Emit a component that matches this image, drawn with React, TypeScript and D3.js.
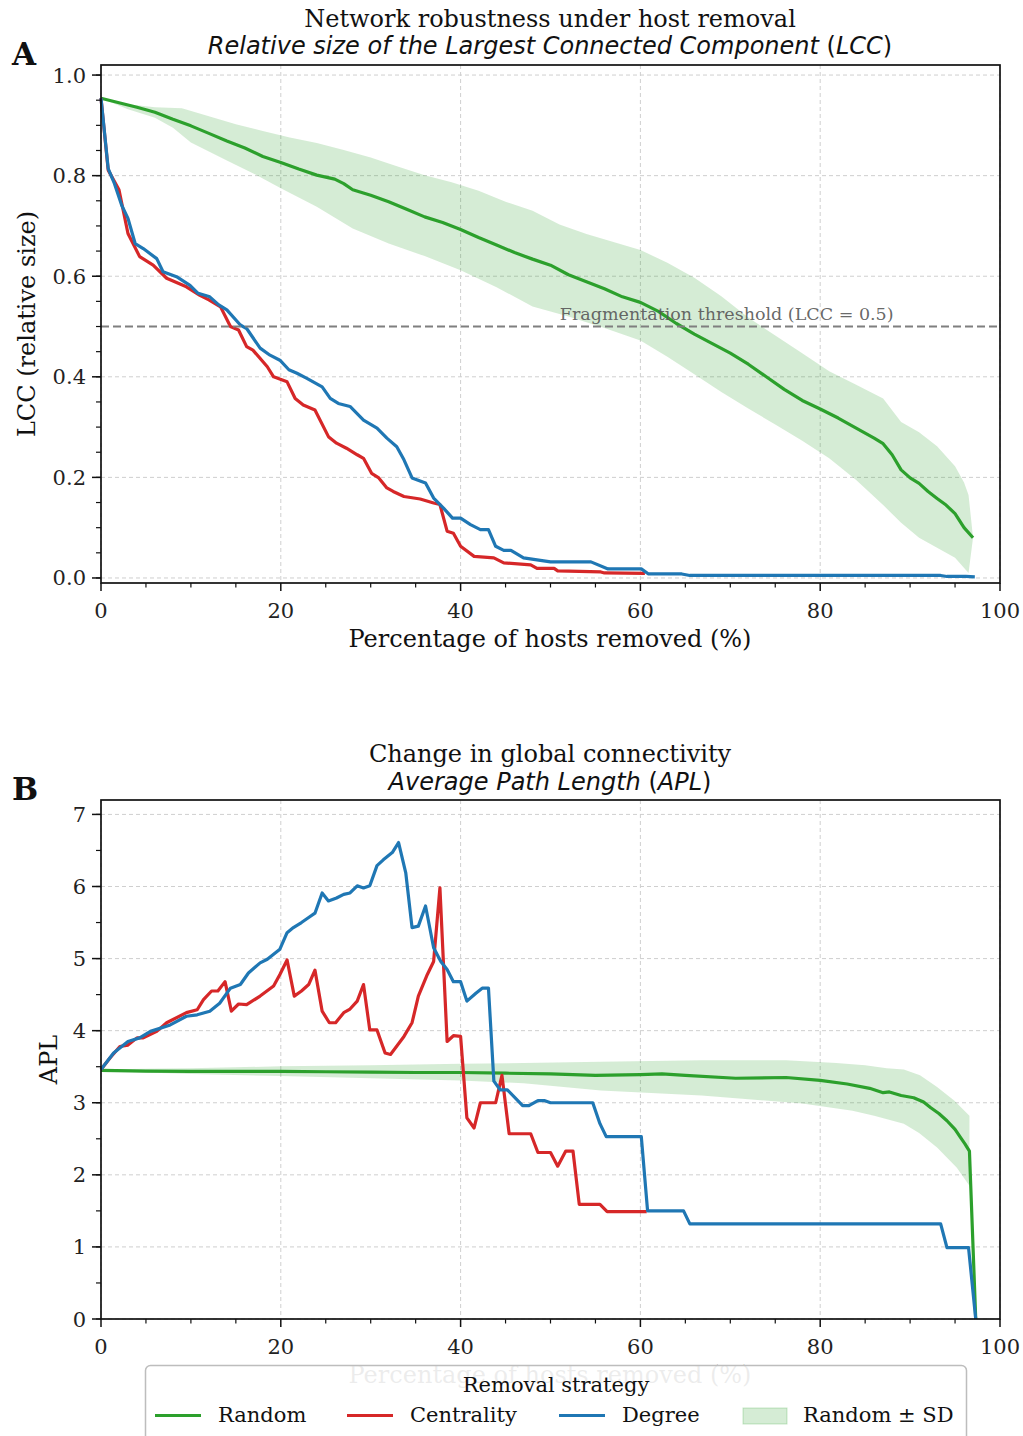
import React, { useRef, useEffect } from 'react'
import * as d3 from 'd3'

// ---- Panel A: relative size of the largest connected component ----
const lccPctRandom = [0,2,4,6,8,10,12,14,16,18,20,22,24,26,27,28,30,32,34,36,38,40,42,44,46,48,50,52,54,56,58,60,62,64,66,68,70,72,74,76,78,80,82,84,86,87,88,89,90,91,92,93,94,95,96,97]
const lccRandomMean = [0.954,0.945,0.936,0.926,0.912,0.899,0.884,0.869,0.855,0.838,0.826,0.813,0.801,0.793,0.784,0.772,0.761,0.748,0.733,0.718,0.707,0.693,0.677,0.662,0.647,0.634,0.622,0.603,0.589,0.575,0.559,0.548,0.530,0.506,0.485,0.466,0.447,0.425,0.400,0.375,0.353,0.336,0.318,0.298,0.278,0.267,0.245,0.215,0.199,0.188,0.172,0.158,0.145,0.128,0.100,0.080]

const lccPctUpper = [0,3,6,9,12,15,18,21,24,27,30,33,36,39,42,45,48,51,54,57,60,63,66,69,72,75,78,81,84,87,89,91,93,95,96,96.5,97]
const lccUpper = [0.954,0.942,0.936,0.934,0.918,0.902,0.889,0.876,0.865,0.851,0.836,0.818,0.801,0.787,0.770,0.748,0.730,0.703,0.684,0.668,0.652,0.627,0.597,0.560,0.518,0.482,0.447,0.411,0.384,0.357,0.310,0.290,0.262,0.222,0.190,0.165,0.080]
const lccPctLower = [0,3,6,8,10,12,14,17,20,24,28,32,36,40,44,48,52,56,60,63,66,69,72,75,78,81,84,87,89,91,93,95,96.5,97]
const lccLower = [0.954,0.932,0.915,0.895,0.866,0.848,0.830,0.804,0.775,0.738,0.695,0.665,0.640,0.612,0.578,0.540,0.520,0.497,0.472,0.440,0.405,0.370,0.337,0.305,0.273,0.238,0.195,0.145,0.110,0.080,0.060,0.040,0.010,0.080]

const lccPctCent = [0,0.8,2,3,4.3,5.8,7.3,9.5,11,12,13.3,14.4,15.3,16.2,16.9,18.5,19.2,20.7,21.6,22.5,23.8,25.3,26.2,27.3,28.5,29.2,30.1,30.9,31.8,32.5,33.7,35.5,37,37.7,38.5,39.2,40,41.5,43.7,44.8,47.8,48.5,50.4,50.8,55.6,56,60.5]
const lccCent = [0.954,0.811,0.772,0.685,0.639,0.622,0.596,0.579,0.562,0.553,0.539,0.500,0.493,0.460,0.453,0.420,0.400,0.390,0.357,0.344,0.334,0.281,0.268,0.258,0.245,0.238,0.208,0.199,0.179,0.172,0.162,0.157,0.149,0.146,0.093,0.089,0.063,0.043,0.040,0.030,0.026,0.019,0.019,0.014,0.012,0.010,0.009]

const lccPctDeg = [0,0.8,1.5,2.3,3,3.8,4.7,6.2,6.9,8.4,9.9,10.8,12.1,13.1,14,15.5,16.2,17.7,18.8,19.9,20.9,21.8,22.9,24.6,25.5,26.4,27.7,29.2,30.7,31.8,32.9,33.7,34.6,36.1,37,38.1,39.1,40,41.1,42.2,43.1,43.9,44.8,45.6,47,50,54.5,56.4,60.1,60.9,64.6,65.5,93.4,94.1,96.2,97.2]
const lccDeg = [0.954,0.814,0.784,0.741,0.715,0.665,0.655,0.635,0.609,0.599,0.582,0.566,0.559,0.543,0.533,0.503,0.496,0.457,0.443,0.433,0.414,0.407,0.397,0.380,0.357,0.347,0.341,0.314,0.298,0.278,0.261,0.235,0.199,0.189,0.159,0.139,0.119,0.119,0.106,0.096,0.096,0.063,0.055,0.055,0.040,0.032,0.032,0.018,0.018,0.008,0.008,0.005,0.005,0.003,0.003,0.002]

// ---- Panel B: average path length ----
const aplPctRandom = [0,5,10,15,20,25,30,35,40,45,50,55,60,62.4,65,70.6,76.2,80,83,85.5,87,87.7,89,90.4,91.5,92.3,93.2,94.1,95,95.6,96.1,96.6,97.3]
const aplRandomMean = [3.45,3.44,3.435,3.435,3.435,3.43,3.425,3.42,3.42,3.41,3.40,3.38,3.39,3.40,3.38,3.34,3.35,3.31,3.26,3.20,3.14,3.15,3.10,3.07,3.01,2.93,2.85,2.75,2.63,2.52,2.43,2.33,0]

const aplPctUpper = [0,5,10,20,30,40,47,55.6,66.8,76.2,81.8,85,87.4,89.3,91.1,93,94.9,96.6]
const aplUpper = [3.46,3.47,3.48,3.505,3.52,3.54,3.55,3.57,3.59,3.59,3.55,3.52,3.48,3.46,3.38,3.22,3.03,2.82]
const aplPctLower = [0,5,10,20,30,40,47,55.6,66.8,78,83.6,86,89.3,91,93,95.2,96.6]
const aplLower = [3.44,3.42,3.40,3.37,3.34,3.31,3.27,3.17,3.10,2.99,2.89,2.82,2.71,2.58,2.38,2.10,1.85]

const aplPctCent = [0,1,2.1,3,4,4.7,6.2,7.3,9.5,10.7,11.4,12.3,13,13.8,14.5,15.3,16.2,17.7,19.2,19.9,20.7,21.5,22.3,23.1,23.8,24.6,25.4,26.1,27,27.7,28.5,29.2,29.9,30.7,31.6,32.2,33.7,34.6,35.3,36.3,37,37.7,38.5,39.2,40,40.7,41.5,42.2,43.9,44.6,45.4,47.8,48.6,50,50.8,51.7,52.5,53.2,55.5,56.3,60.7]
const aplCent = [3.46,3.62,3.78,3.80,3.90,3.90,3.99,4.11,4.25,4.29,4.43,4.55,4.55,4.68,4.27,4.37,4.36,4.48,4.62,4.78,4.98,4.48,4.55,4.64,4.84,4.27,4.11,4.11,4.25,4.30,4.41,4.64,4.01,4.01,3.69,3.67,3.92,4.11,4.48,4.78,4.96,5.98,3.85,3.93,3.92,2.79,2.65,3.00,3.00,3.38,2.57,2.57,2.31,2.31,2.12,2.33,2.33,1.59,1.59,1.49,1.49]

const aplPctDeg = [0,1.4,3,4.3,5.5,7.7,9.5,10.7,12.1,13.2,14.4,15.5,16.4,17.7,18.5,19.2,19.9,20.7,21.4,22.3,23.1,23.8,24.6,25.3,26.2,27,27.7,28.5,29.2,29.9,30.7,31.4,32.4,33.1,33.9,34.6,35.3,36.1,37,37.8,38.5,39.2,40,40.7,41.7,42.4,43.1,43.7,44.4,45.2,46.9,47.6,48.6,49.3,50,54.7,55.5,56.2,60.1,60.8,64.8,65.5,93.4,94.1,96.5,97.3]
const aplDeg = [3.46,3.69,3.85,3.90,3.99,4.08,4.20,4.22,4.27,4.38,4.59,4.64,4.80,4.94,4.99,5.06,5.13,5.36,5.43,5.50,5.57,5.63,5.91,5.80,5.84,5.89,5.91,6.01,5.98,6.01,6.29,6.37,6.47,6.61,6.19,5.43,5.45,5.73,5.15,4.96,4.85,4.68,4.68,4.41,4.52,4.59,4.59,3.30,3.18,3.18,2.96,2.96,3.03,3.03,3.00,3.00,2.71,2.53,2.53,1.50,1.50,1.32,1.32,0.99,0.99,0]

const xMajor = [0, 20, 40, 60, 80, 100]
const lccMajor = [0, 0.2, 0.4, 0.6, 0.8, 1.0]
const aplMajor = [0, 1, 2, 3, 4, 5, 6, 7]
const strategies = ['Random', 'Centrality', 'Degree']

const GREEN = '#2ca02c', RED = '#d62728', BLUE = '#1f77b4'
const SERIF = '"DejaVu Serif", serif'
const SANS = '"DejaVu Sans", sans-serif'
const LEFT = 101, RIGHT = 1000
const LW = 3.2

const zip = (xs: number[], ys: number[]) => xs.map((v, i) => [v, ys[i]] as [number, number])

function makePanel(svg: any, p: any) {
    const g = svg.append('g')
    const x = d3.scaleLinear().domain([0, 100]).range([LEFT, RIGHT])
    const y = d3.scaleLinear().domain(p.yDomain).range([p.bottom, p.top])

    // grid
    g.append('g').selectAll('line').data(xMajor).join('line')
        .attr('x1', d => x(d)).attr('x2', d => x(d))
        .attr('y1', p.top).attr('y2', p.bottom)
        .attr('stroke', '#cfcfcf').attr('stroke-width', 1).attr('stroke-dasharray', '4,3')
    g.append('g').selectAll('line').data(p.yMajor).join('line')
        .attr('y1', d => y(d)).attr('y2', d => y(d))
        .attr('x1', LEFT).attr('x2', RIGHT)
        .attr('stroke', '#cfcfcf').attr('stroke-width', 1).attr('stroke-dasharray', '4,3')

    // titles
    g.append('text').attr('x', 550).attr('y', p.title1Y)
        .attr('text-anchor', 'middle').attr('font-family', SERIF).attr('font-size', 24)
        .attr('fill', '#111').text(p.title1)
    const t2 = g.append('text').attr('x', 550).attr('y', p.title2Y)
        .attr('text-anchor', 'middle').attr('font-family', SANS).attr('font-size', 24).attr('fill', '#111')
    t2.append('tspan').attr('font-style', 'italic').text(p.title2 + ' ')
    t2.append('tspan').text('(')
    t2.append('tspan').attr('font-style', 'italic').text(p.abbr)
    t2.append('tspan').text(')')

    g.append('text').attr('x', 12).attr('y', p.top)
        .attr('font-family', SERIF).attr('font-weight', 'bold').attr('font-size', 31)
        .attr('fill', '#111').text(p.letter)

    return { g, x, y }
}

function finishPanel(g: any, x: any, y: any, p: any) {
    const ink = '#111'
    // minor + major ticks
    const xMinor = d3.range(0, 101, 5).filter(v => v % 20 !== 0)
    const yMinor = d3.range(0, p.yMax + 1e-9, p.yMinorStep)
    g.append('g').selectAll('line').data(xMinor).join('line')
        .attr('x1', d => x(d)).attr('x2', d => x(d))
        .attr('y1', p.bottom).attr('y2', p.bottom + 4.5)
        .attr('stroke', ink).attr('stroke-width', 1.2)
    g.append('g').selectAll('line').data(xMajor).join('line')
        .attr('x1', d => x(d)).attr('x2', d => x(d))
        .attr('y1', p.bottom).attr('y2', p.bottom + 8)
        .attr('stroke', ink).attr('stroke-width', 1.5)
    g.append('g').selectAll('line').data(yMinor).join('line')
        .attr('y1', d => y(d)).attr('y2', d => y(d))
        .attr('x1', LEFT).attr('x2', LEFT - 5)
        .attr('stroke', ink).attr('stroke-width', 1.2)
    g.append('g').selectAll('line').data(p.yMajor).join('line')
        .attr('y1', d => y(d)).attr('y2', d => y(d))
        .attr('x1', LEFT).attr('x2', LEFT - 9)
        .attr('stroke', ink).attr('stroke-width', 1.5)

    // spines
    g.append('rect').attr('x', LEFT).attr('y', p.top)
        .attr('width', RIGHT - LEFT).attr('height', p.bottom - p.top)
        .attr('fill', 'none').attr('stroke', ink).attr('stroke-width', 1.7)

    // tick labels
    g.append('g').selectAll('text').data(xMajor).join('text')
        .attr('x', d => x(d)).attr('y', p.bottom + 35)
        .attr('text-anchor', 'middle').attr('font-family', SERIF).attr('font-size', 21)
        .attr('fill', '#222').text(d => d3.format('d')(d))
    g.append('g').selectAll('text').data(p.yMajor).join('text')
        .attr('x', LEFT - 15).attr('y', d => y(d) + 7.5)
        .attr('text-anchor', 'end').attr('font-family', SERIF).attr('font-size', 21)
        .attr('fill', '#222').text(d => d3.format(p.yFmt)(d))

    // axis labels
    g.append('text').attr('x', 550).attr('y', p.bottom + 64)
        .attr('text-anchor', 'middle').attr('font-family', SERIF).attr('font-size', 24)
        .attr('fill', '#111').text('Percentage of hosts removed (%)')
    g.append('text')
        .attr('transform', `translate(${p.ylabelX},${(p.top + p.bottom) / 2}) rotate(-90)`)
        .attr('text-anchor', 'middle').attr('font-family', SERIF).attr('font-size', 24)
        .attr('fill', '#111').text(p.ylabel)
}

const App = () => {
    const svgRef = useRef<SVGSVGElement>(null)

    useEffect(() => {
        const svg = d3.select(svgRef.current)
        svg.selectAll('*').remove()

        // ===== Panel A =====
        const pa = {
            top: 65, bottom: 583, yDomain: [-0.01, 1.02], yMajor: lccMajor, yMax: 1.0, yMinorStep: 0.05,
            yFmt: '.1f', ylabel: 'LCC (relative size)', ylabelX: 35, letter: 'A',
            title1: 'Network robustness under host removal', title1Y: 27,
            title2: 'Relative size of the Largest Connected Component', abbr: 'LCC', title2Y: 53.5
        }
        const A = makePanel(svg, pa)
        const lineA = d3.line<[number, number]>().x(d => A.x(d[0])).y(d => A.y(d[1]))
        const bandA = [...zip(lccPctUpper, lccUpper), ...zip(lccPctLower, lccLower).reverse()]
        A.g.append('path').attr('d', lineA(bandA) + 'Z').attr('fill', GREEN).attr('fill-opacity', 0.2)
        A.g.append('path').attr('d', lineA(zip(lccPctRandom, lccRandomMean)))
            .attr('fill', 'none').attr('stroke', GREEN).attr('stroke-width', LW).attr('stroke-linejoin', 'round')
        A.g.append('path').attr('d', lineA(zip(lccPctCent, lccCent)))
            .attr('fill', 'none').attr('stroke', RED).attr('stroke-width', LW).attr('stroke-linejoin', 'round')
        A.g.append('path').attr('d', lineA(zip(lccPctDeg, lccDeg)))
            .attr('fill', 'none').attr('stroke', BLUE).attr('stroke-width', LW).attr('stroke-linejoin', 'round')
        // fragmentation threshold
        A.g.append('line').attr('x1', LEFT).attr('x2', RIGHT).attr('y1', A.y(0.5)).attr('y2', A.y(0.5))
            .attr('stroke', '#7f7f7f').attr('stroke-width', 2).attr('stroke-dasharray', '8,4')
        A.g.append('text').attr('x', A.x(69.6)).attr('y', A.y(0.5) - 6.5)
            .attr('text-anchor', 'middle').attr('font-family', SERIF).attr('font-size', 17.5)
            .attr('fill', '#555').attr('fill-opacity', 0.9).text('Fragmentation threshold (LCC = 0.5)')
        finishPanel(A.g, A.x, A.y, pa)

        // ===== Panel B =====
        const pb = {
            top: 800, bottom: 1319, yDomain: [0, 7.2], yMajor: aplMajor, yMax: 7, yMinorStep: 0.5,
            yFmt: 'd', ylabel: 'APL', ylabelX: 57, letter: 'B',
            title1: 'Change in global connectivity', title1Y: 762,
            title2: 'Average Path Length', abbr: 'APL', title2Y: 790
        }
        const B = makePanel(svg, pb)
        const lineB = d3.line<[number, number]>().x(d => B.x(d[0])).y(d => B.y(d[1]))
        const bandB = [...zip(aplPctUpper, aplUpper), ...zip(aplPctLower, aplLower).reverse()]
        B.g.append('path').attr('d', lineB(bandB) + 'Z').attr('fill', GREEN).attr('fill-opacity', 0.2)
        B.g.append('path').attr('d', lineB(zip(aplPctRandom, aplRandomMean)))
            .attr('fill', 'none').attr('stroke', GREEN).attr('stroke-width', LW).attr('stroke-linejoin', 'round')
        B.g.append('path').attr('d', lineB(zip(aplPctCent, aplCent)))
            .attr('fill', 'none').attr('stroke', RED).attr('stroke-width', LW).attr('stroke-linejoin', 'round')
        B.g.append('path').attr('d', lineB(zip(aplPctDeg, aplDeg)))
            .attr('fill', 'none').attr('stroke', BLUE).attr('stroke-width', LW).attr('stroke-linejoin', 'round')
        finishPanel(B.g, B.x, B.y, pb)

        // ===== Legend (overlaps panel B x label, as in the original) =====
        const leg = svg.append('g')
        leg.append('rect').attr('x', 145.5).attr('y', 1365.5).attr('width', 821).attr('height', 100)
            .attr('rx', 5).attr('fill', '#fff').attr('fill-opacity', 0.92)
            .attr('stroke', '#bdbdbd').attr('stroke-width', 1.5)
        leg.append('text').attr('x', 556).attr('y', 1391.5).attr('text-anchor', 'middle')
            .attr('font-family', SERIF).attr('font-size', 21).attr('fill', '#111').text('Removal strategy')
        const colors = [GREEN, RED, BLUE]
        const handleX = [155, 347, 559]
        strategies.forEach((s, i) => {
            leg.append('line').attr('x1', handleX[i]).attr('x2', handleX[i] + 46)
                .attr('y1', 1415.5).attr('y2', 1415.5).attr('stroke', colors[i]).attr('stroke-width', LW)
            leg.append('text').attr('x', handleX[i] + 63).attr('y', 1422)
                .attr('font-family', SERIF).attr('font-size', 21).attr('fill', '#111').text(s)
        })
        leg.append('rect').attr('x', 743).attr('y', 1408).attr('width', 44).attr('height', 16)
            .attr('fill', GREEN).attr('fill-opacity', 0.2).attr('stroke', GREEN).attr('stroke-opacity', 0.25)
        leg.append('text').attr('x', 803).attr('y', 1422)
            .attr('font-family', SERIF).attr('font-size', 21).attr('fill', '#111').text('Random ± SD')
    }, [])

    return (
        <div style={{ position: 'absolute', left: 0, top: 0 }}>
            <svg ref={svgRef} width={1023} height={1436} style={{ display: 'block', background: '#fff' }} />
        </div>
    )
}

export default App
